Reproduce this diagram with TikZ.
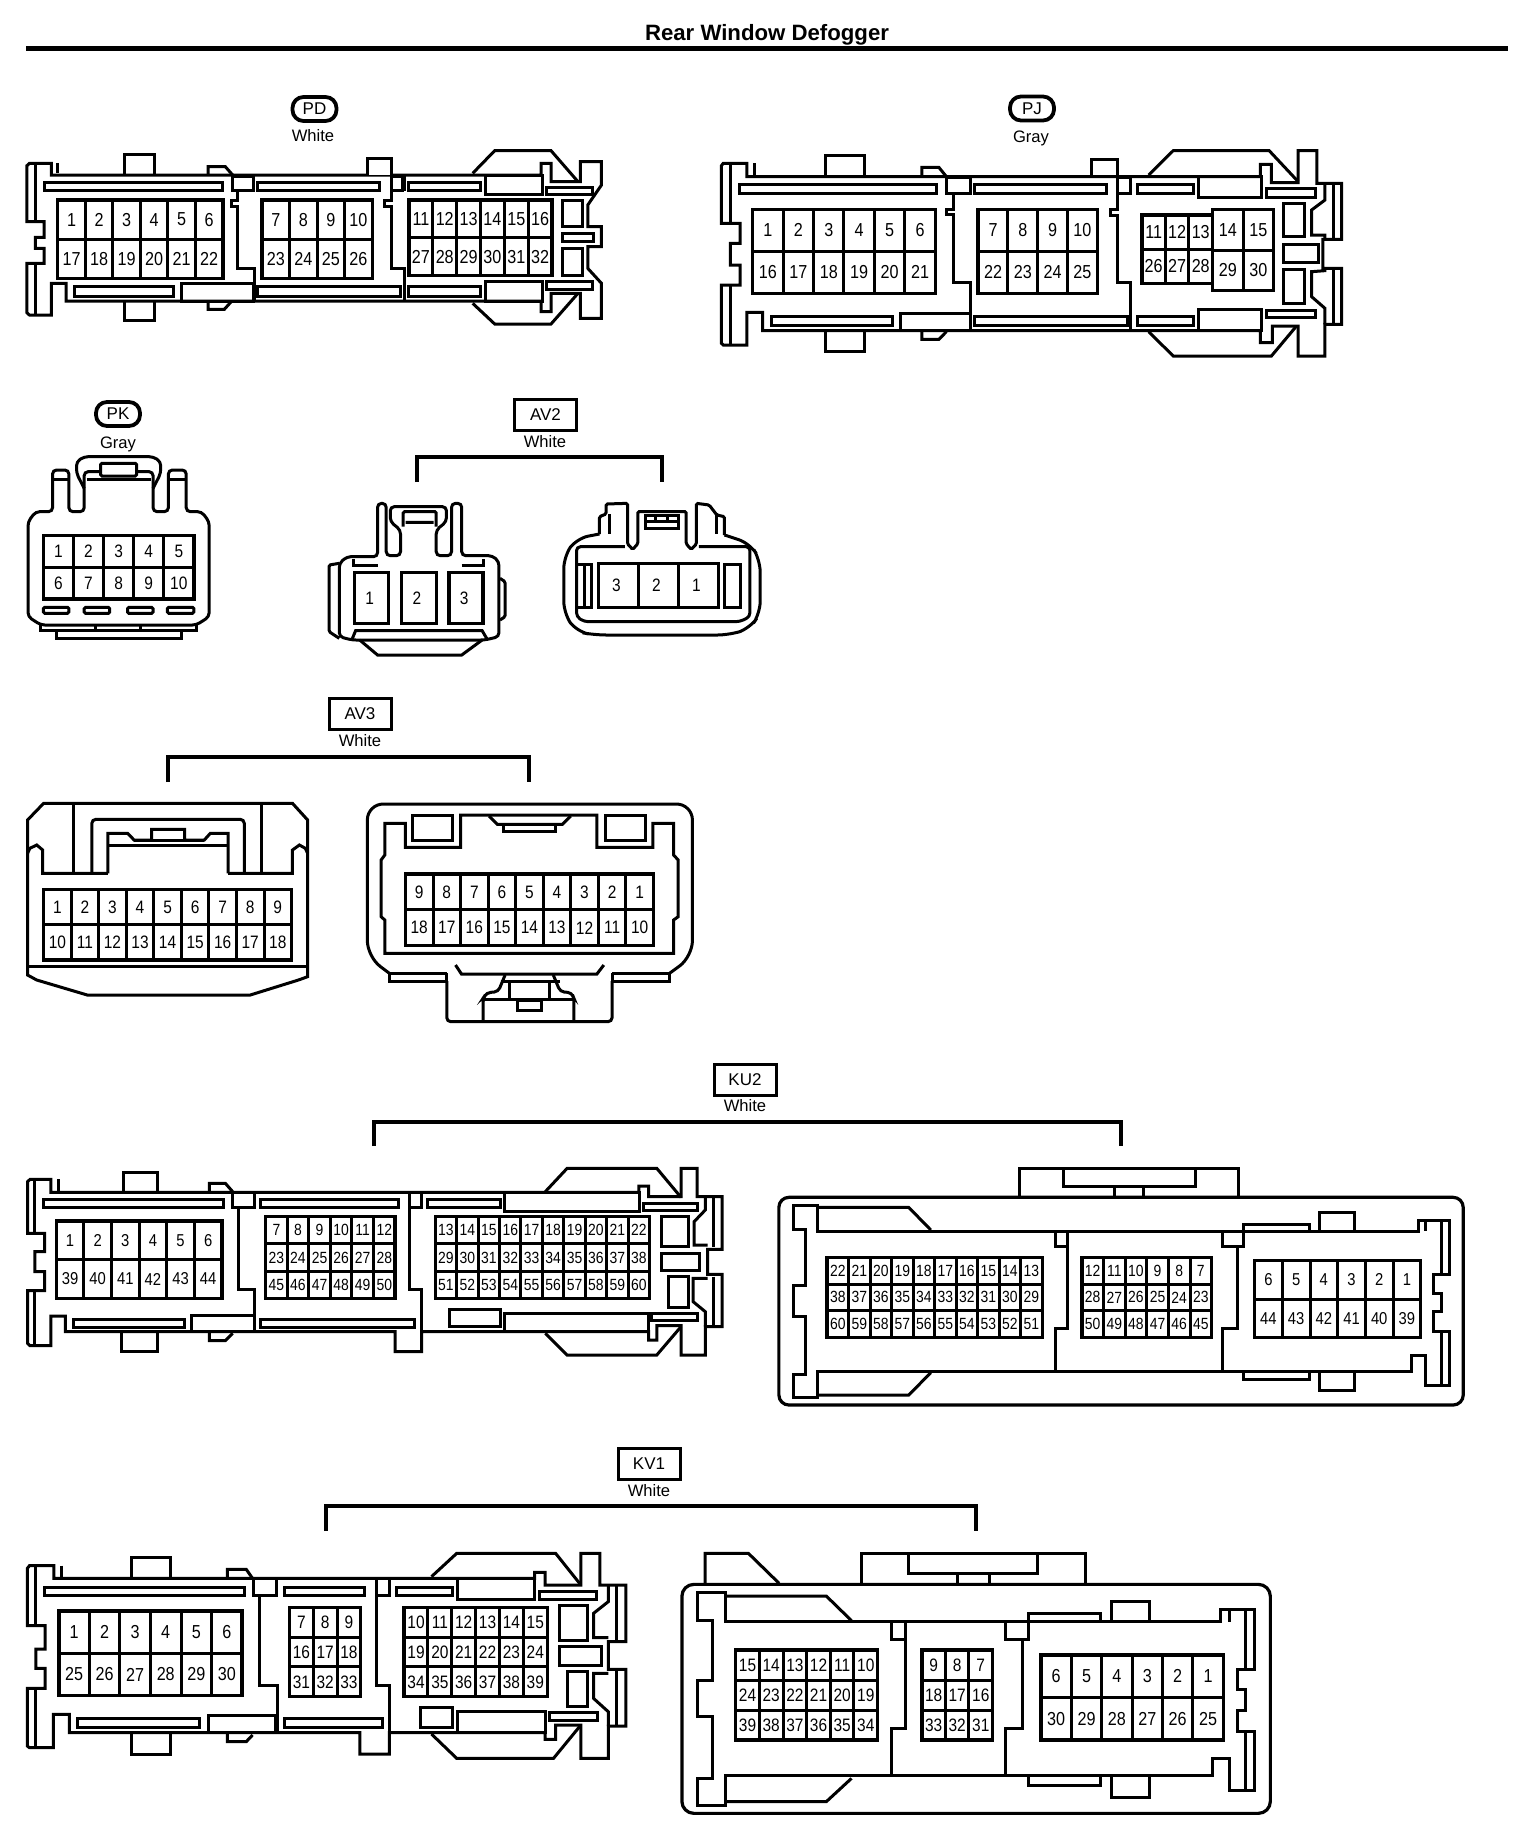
\documentclass[tikz,border=0pt]{standalone}
\usepackage{fontspec}
\setmainfont{Liberation Sans}
\newfontfamily\pinfont[FakeStretch=0.86]{Liberation Sans}
\newcounter{pinctr}
\def\pinoff{0pt}
\tikzset{
  zoomscope/.style n args={3}{x=#3pt,y=-0.16667pt,shift={(#1*0.5pt,-#2*0.5pt)}},
  realscope/.style={x=0.5pt,y=-0.5pt},
  pinbox/.style={draw=black,line width=1.7pt},
  pin/.style={inner sep=0pt,text=black},
  caplabel/.style={inner sep=0pt,font=\fontsize{8.3pt}{9pt}\selectfont},
  badge/.style={draw=black,line width=1.9pt,rounded corners=5.5pt,minimum width=22pt,minimum height=12pt,inner sep=0pt,font=\fontsize{8.5pt}{9pt}\selectfont},
  labbox/.style={draw=black,line width=1.5pt,minimum width=31pt,minimum height=15.5pt,inner sep=0pt,font=\fontsize{8.5pt}{9pt}\selectfont},
  bracket/.style={draw=black,line width=1.7pt},
  part/.style={draw=black,line width=1.5pt},
  soft/.style={draw=black,line width=1.5pt,rounded corners=2pt},
  tiny/.style={draw=black,line width=1.5pt,rounded corners=0.7pt}
}
\newcommand\pins[8]{%
  \pgfmathsetmacro\pdx{(#3-#1)/#5}%
  \pgfmathsetmacro\pdy{(#4-#2)/#6}%
  \draw[pinbox] (#1,#2) rectangle (#3,#4);
  \foreach \cx in {1,...,#5}{\draw[part] ({#1+\cx*\pdx},#2) -- ({#1+\cx*\pdx},#4);}
  \foreach \ry in {1,...,#6}{\draw[part] (#1,{#2+\ry*\pdy}) -- (#3,{#2+\ry*\pdy});}
  \foreach \lab [count=\i from 0] in {#8}{%
    \pgfmathtruncatemacro\ccol{mod(\i,#5)}%
    \pgfmathtruncatemacro\rrow{int(\i/#5)}%
    \stepcounter{pinctr}%
    \node[pin,xshift=\pinoff,font=\pinfont\fontsize{#7}{#7}\selectfont] (pin\thepinctr) at ({#1+(\ccol+.5)*\pdx},{#2+(\rrow+.5)*\pdy}) {\lab};
  }
}
\newcommand\rects[1]{\foreach \ra/\rb/\rc/\rd in {#1}{\draw[part] (\ra,\rb) rectangle (\rc,\rd);}}
\begin{document}
\begin{tikzpicture}
\fill[white] (0,0) rectangle (768pt,-917pt);
\useasboundingbox (0,0) rectangle (768pt,-917pt);

% ---- labels, title, brackets (reference pixels)
\begin{scope}[realscope]
\node[inner sep=0pt,font=\bfseries\fontsize{11.1pt}{12pt}\selectfont] (title) at (767,35) {Rear Window Defogger};
\coordinate (barL) at (26,48.5); \coordinate (barR) at (1508,48.5);
\draw[line width=2.5pt] (barL) -- (barR);

\node[badge] (pd) at (314.5,109) {PD};
\node[caplabel] (pdc) at (313,136) {White};
\node[badge] (pj) at (1032,108.5) {PJ};
\node[caplabel] (pjc) at (1031,138) {Gray};
\node[badge] (pk) at (118,414) {PK};
\node[caplabel] (pkc) at (118,444) {Gray};
\node[labbox] (av2) at (545.5,415) {AV2};
\node[caplabel] (av2c) at (545,442) {White};
\node[labbox] (av3) at (360,714) {AV3};
\node[caplabel] (av3c) at (360,741) {White};
\node[labbox] (ku2) at (745,1080) {KU2};
\node[caplabel] (ku2c) at (745,1106) {White};
\node[labbox] (kv1) at (649,1464) {KV1};
\node[caplabel] (kv1c) at (649,1491) {White};

\coordinate (av2L) at (417,482); \coordinate (av2R) at (662,482); \coordinate (av2T) at (540,457);
\draw[bracket] (av2L) |- (av2T) -| (av2R);
\coordinate (av3L) at (168,782); \coordinate (av3R) at (529,782); \coordinate (av3T) at (350,757);
\draw[bracket] (av3L) |- (av3T) -| (av3R);
\coordinate (ku2L) at (374,1146); \coordinate (ku2R) at (1121,1146); \coordinate (ku2T) at (745,1122);
\draw[bracket] (ku2L) |- (ku2T) -| (ku2R);
\coordinate (kv1L) at (326,1531); \coordinate (kv1R) at (976,1531); \coordinate (kv1T) at (650,1506);
\draw[bracket] (kv1L) |- (kv1T) -| (kv1R);
\end{scope}

% ---- PD
\begin{scope}[zoomscope={0}{0}{0.24490}]
\draw[part] (105,525) -- (105,490) -- (60,490) -- (55,497) -- (55,665) -- (90,665) -- (90,712) -- (72,712) -- (72,745) -- (90,745) -- (90,790) -- (55,790) -- (55,938) -- (60,945) -- (105,945) -- (105,850) -- (135,850) -- (135,903) -- (1105,903) -- (1105,935) -- (1125,935) -- (1125,880) -- (1185,880) -- (1185,955) -- (1228,955) -- (1228,850) -- (1200,805) -- (1200,740) -- (1228,740) -- (1228,680) -- (1200,680) -- (1200,615) -- (1228,555) -- (1228,485) -- (1185,485) -- (1185,545) -- (1125,545) -- (1125,490) -- (1105,490) -- (1105,525) -- cycle;
\draw[part] (72,490) -- (72,665) (72,790) -- (72,945) (118,490) -- (118,520);
\draw[part] (255,525) -- (255,465) -- (315,465) -- (315,525);
\draw[part] (425,525) -- (425,500) -- (460,500) -- (475,525);
\draw[fill=white,part] (750,525) -- (750,475) -- (800,475) -- (800,525);
\draw[part] (965,520) -- (1010,452) -- (1125,452) -- (1180,545);
\draw[part] (965,910) -- (1010,972) -- (1125,972) -- (1180,880);
\draw[part] (255,903) -- (255,962) -- (315,962) -- (315,903);
\draw[part] (425,903) -- (425,928) -- (458,928) -- (472,905);
\rects{90/547/455/572,525/547/775/572,835/547/982/572,1115/562/1210/582,152/860/355/888,525/860/817/888,835/860/982/888,1115/845/1210/868,475/528/518/572,800/528/822/572,992/525/1108/582,992/843/1108/903,370/850/518/903,1148/600/1190/680,1148/700/1212/725,1148/745/1190/825}
\draw[part] (485,572) -- (485,600) -- (472,600) -- (472,618) -- (485,618) -- (485,805) -- (520,805) -- (520,903);
\draw[part] (800,572) -- (800,600) -- (785,600) -- (785,618) -- (800,618) -- (800,805) -- (825,805) -- (825,903) (825,525) -- (825,572);
\pins{118}{600}{455}{835}{6}{2}{9.4pt}{1,2,3,4,5,6,17,18,19,20,21,22}
\pins{535}{600}{760}{835}{4}{2}{9.4pt}{7,8,9,10,23,24,25,26}
\pins{835}{600}{1127}{827}{6}{2}{9.4pt}{11,12,13,14,15,16,27,28,29,30,31,32}
\end{scope}

% ---- PJ
\begin{scope}[zoomscope={700}{80}{0.22321}]
\draw[part] (105,290) -- (105,250) -- (52,250) -- (48,257) -- (48,430) -- (90,430) -- (90,490) -- (68,490) -- (68,555) -- (90,555) -- (90,615) -- (48,615) -- (48,790) -- (52,795) -- (105,795) -- (105,697) -- (140,697) -- (140,752) -- (1255,752) -- (1255,788) -- (1282,788) -- (1282,738) -- (1340,738) -- (1340,828) -- (1400,828) -- (1400,733) -- (1437,733) -- (1437,565) -- (1395,565) -- (1395,478) -- (1437,478) -- (1437,310) -- (1382,310) -- (1382,212) -- (1340,212) -- (1340,308) -- (1280,308) -- (1280,253) -- (1255,253) -- (1255,290) -- cycle;
\draw[part] (68,250) -- (68,430) (68,615) -- (68,795) (122,250) -- (122,290);
\draw[part] (280,290) -- (280,227) -- (368,227) -- (368,290);
\draw[part] (497,290) -- (497,262) -- (535,262) -- (552,290);
\draw[part] (878,290) -- (878,238) -- (935,238) -- (935,290);
\draw[part] (1005,285) -- (1060,212) -- (1275,212) -- (1340,305);
\draw[part] (1005,755) -- (1060,828) -- (1280,828) -- (1335,740);
\draw[part] (280,752) -- (280,815) -- (368,815) -- (368,752);
\draw[part] (497,752) -- (497,778) -- (535,778) -- (552,755);
\draw[part] (1418,310) -- (1418,478) (1418,565) -- (1418,733);
\draw[part] (1400,310) -- (1400,360) -- (1370,390) -- (1370,465) -- (1400,465) -- (1400,478);
\draw[part] (1400,565) -- (1400,572) -- (1370,575) -- (1370,650) -- (1400,685) -- (1400,733);
\rects{88/313/530/342,615/313/910/342,980/313/1105/342,1270/325/1378/352,160/708/432/737,615/708/957/737,980/708/1105/737,1270/690/1378/713,552/292/607/342,935/292/965/342,1117/290/1258/352,1117/688/1258/752,450/700/607/752,1307/370/1355/470,1307/493/1385/547,1307/568/1355/670}
\draw[part] (568,342) -- (568,388) -- (552,388) -- (552,405) -- (568,405) -- (568,607) -- (607,607) -- (607,752);
\draw[part] (935,342) -- (935,390) -- (920,390) -- (920,407) -- (935,407) -- (935,607) -- (965,607) -- (965,752);
\pins{118}{388}{527}{640}{6}{2}{9.4pt}{1,2,3,4,5,6,16,17,18,19,20,21}
\pins{623}{388}{890}{640}{4}{2}{9.4pt}{7,8,9,10,22,23,24,25}
\pins{990}{405}{1148}{610}{3}{2}{9.4pt}{11,12,13,26,27,28}
\pins{1148}{388}{1285}{632}{2}{2}{9.4pt}{14,15,29,30}
\end{scope}

% ---- PK and AV2
\begin{scope}[zoomscope={0}{390}{0.25510}]
\draw[soft] (55,680) -- (55,395) -- (70,365) -- (103,365) -- (103,240) -- (135,240) -- (135,365) -- (165,365) -- (165,245) -- (300,245) -- (300,365) -- (330,365) -- (330,240) -- (365,240) -- (365,365) -- (395,365) -- (410,395) -- (410,680) -- (385,705) -- (80,705) -- cycle;
\draw[soft] (165,295) -- (150,250) -- (150,215) -- (165,200) -- (300,200) -- (315,215) -- (315,250) -- (300,295);
\draw[part] (170,268) -- (295,268) (103,268) -- (135,268) (330,268) -- (365,268);
\draw[tiny,fill=white] (197,220) rectangle (268,258);
\draw[part] (80,705) -- (80,722) -- (385,722) -- (385,705) (110,722) -- (110,745) -- (355,745) -- (355,722) (187,703) -- (187,720) (275,703) -- (275,720);
\foreach \ra/\rc in {85/135,165/215,250/300,328/380}{\draw[tiny] (\ra,652) rectangle (\rc,670);}
\pins{85}{436}{380}{627}{5}{2}{9pt}{1,2,3,4,5,6,7,8,9,10}

% AV2 left
\draw[soft] (665,520) -- (680,500) -- (740,500) -- (740,340) -- (757,340) -- (757,497) -- (785,497) -- (785,420) -- (765,395) -- (765,350) -- (875,350) -- (875,395) -- (855,420) -- (855,497) -- (885,497) -- (885,340) -- (905,340) -- (905,497) -- (965,497) -- (978,515) -- (978,740) -- (950,750) -- (690,750) -- (665,740) -- cycle;
\draw[tiny] (790,410) -- (790,365) -- (855,365) -- (855,410) (795,397) -- (850,397);
\draw[part] (705,750) -- (740,795) -- (905,795) -- (945,750);
\draw[tiny] (665,520) -- (645,525) -- (645,725) -- (665,745);
\draw[tiny] (980,565) -- (990,575) -- (990,680) -- (980,690);
\draw[part] (692,507) -- (692,525) -- (740,525) (905,525) -- (948,525) -- (948,507);
\draw[part] (690,748) -- (697,722) -- (945,722) -- (955,748);
\def\pinoff{-1pt}
\pins{695}{548}{762}{700}{1}{1}{9pt}{1}
\pins{787}{548}{855}{700}{1}{1}{9pt}{2}
\pins{880}{548}{947}{700}{1}{1}{9pt}{3}

% AV2 right
\draw[line width=1.5pt,rounded corners=6pt] (1175,432) -- (1130,445) -- (1105,500) -- (1105,670) -- (1130,725) -- (1165,735) -- (1430,735) -- (1470,715) -- (1490,670) -- (1490,510) -- (1470,460) -- (1420,435);
\draw[tiny] (1175,432) -- (1175,380) -- (1188,372) -- (1188,342) -- (1230,340) -- (1230,462) -- (1240,478) -- (1250,462) -- (1250,365) -- (1345,365) -- (1345,462) -- (1355,478) -- (1365,462) -- (1365,340) -- (1390,345) -- (1405,375) -- (1420,380) -- (1420,435);
\draw[part] (1195,372) -- (1195,432) (1405,375) -- (1405,432);
\draw[soft] (1225,470) -- (1130,470) -- (1130,680) -- (1145,695) -- (1450,695) -- (1470,680) -- (1470,470) -- (1370,470);
\draw[part] (1265,375) rectangle (1330,415) (1265,395) -- (1330,395) (1285,375) -- (1285,395) (1308,375) -- (1308,395);
\rects{1130/522/1160/652,1420/522/1452/652}
\draw[part] (1145,522) -- (1145,652);
\pins{1173}{520}{1408}{652}{3}{1}{9pt}{3,2,1}
\def\pinoff{0pt}
\end{scope}

% ---- AV3
\begin{scope}[zoomscope={0}{690}{0.22959}]
\draw[part] (60,390) -- (95,340) -- (637,340) -- (670,390) -- (670,860) -- (650,870) -- (545,915) -- (190,915) -- (80,870) -- (60,855) -- cycle;
\draw[line width=1.8pt] (60,830) -- (670,830);
\draw[soft] (160,548) -- (160,345) (570,548) -- (570,345);
\draw[soft] (200,548) -- (200,388) -- (532,388) -- (532,548);
\draw[part] (235,550) -- (235,430) -- (278,430) -- (292,450) -- (330,450) -- (330,418) -- (402,418) -- (402,450) -- (445,450) -- (458,430) -- (497,430) -- (497,550);
\draw[part] (235,465) -- (497,465) (292,450) -- (445,450);
\draw[part] (60,490) -- (65,475) -- (80,465) -- (93,480) -- (93,550) -- (235,550);
\draw[part] (670,490) -- (665,475) -- (652,465) -- (637,480) -- (637,550) -- (497,550);
\pins{95}{598}{635}{810}{9}{2}{9pt}{1,2,3,4,5,6,7,8,9,10,11,12,13,14,15,16,17,18}

\draw[line width=1.5pt,rounded corners=8pt] (848,850) -- (800,800) -- (800,342) -- (1508,342) -- (1508,800) -- (1458,850);
\draw[part] (848,850) -- (848,873) -- (973,873) -- (973,850) (1333,850) -- (1333,873) -- (1458,873) -- (1458,850) (848,850) -- (973,850) (1333,850) -- (1458,850);
\draw[soft] (973,873) -- (973,995) -- (1333,995) -- (1333,873);
\draw[part] (838,790) -- (838,690) -- (830,680) -- (830,510) -- (838,495) -- (838,400) -- (883,400) -- (883,472) -- (1003,472) -- (1003,375) -- (1300,375) -- (1300,472) -- (1422,472) -- (1422,400) -- (1467,400) -- (1467,495) -- (1477,510) -- (1477,680) -- (1467,690) -- (1467,790) -- cycle;
\rects{898/375/985/450,1318/375/1405/450,1097/403/1210/425,1128/930/1180/962}
\draw[part] (1065,378) -- (1083,403) -- (1225,403) -- (1243,378);
\draw[part] (992,825) -- (1005,852) -- (1300,852) -- (1315,825);
\draw[soft] (1100,855) -- (1085,905) -- (1060,908) -- (1052,925) -- (1052,995);
\draw[soft] (1205,855) -- (1220,905) -- (1245,908) -- (1250,925) -- (1250,995);
\draw[part] (1052,928) -- (1250,928) (1110,875) -- (1110,925) (1197,875) -- (1197,925) (1090,875) -- (1220,875);
\pins{883}{552}{1423}{767}{9}{2}{9pt}{9,8,7,6,5,4,3,2,1,18,17,16,15,14,13,12,11,10}
\end{scope}

% ---- KU2 left
\begin{scope}[zoomscope={0}{1060}{0.24235}]
\draw[part] (105,397) -- (105,358) -- (62,358) -- (57,365) -- (57,520) -- (92,520) -- (92,575) -- (72,575) -- (72,635) -- (92,635) -- (92,692) -- (57,692) -- (57,850) -- (62,857) -- (105,857) -- (105,768) -- (135,768) -- (135,815) -- (815,815) -- (815,875) -- (870,875) -- (870,815) -- (1338,815) -- (1338,840) -- (1355,840) -- (1355,797) -- (1405,797) -- (1405,885) -- (1455,885) -- (1455,800) -- (1490,800) -- (1490,643) -- (1460,643) -- (1460,568) -- (1490,568) -- (1490,410) -- (1438,410) -- (1438,325) -- (1405,325) -- (1405,410) -- (1338,410) -- (1338,378) -- (1318,378) -- (1318,397) -- cycle;
\draw[part] (72,358) -- (72,520) (72,692) -- (72,857) (120,358) -- (120,397);
\draw[part] (1125,395) -- (1170,325) -- (1355,325) -- (1405,412);
\draw[part] (1125,820) -- (1170,885) -- (1355,885) -- (1405,800);
\draw[part] (1472,410) -- (1472,560) (1472,650) -- (1472,795);
\draw[part] (1455,410) -- (1455,450) -- (1432,485) -- (1432,555) -- (1460,555);
\draw[part] (1460,655) -- (1430,655) -- (1430,725) -- (1455,755) -- (1455,800);
\draw[part] (255,397) -- (255,337) -- (325,337) -- (325,397);
\draw[part] (432,397) -- (432,370) -- (465,370) -- (480,395);
\draw[part] (250,815) -- (250,875) -- (325,875) -- (325,815);
\draw[part] (432,815) -- (432,842) -- (465,842) -- (480,820);
\rects{90/418/462/443,538/418/822/443,882/418/1032/443,1328/430/1438/450,152/778/380/802,538/778/855/802,1345/760/1438/780,480/398/525/442,845/398/870/442,1040/397/1320/455,1040/760/1338/815,927/748/1032/800,395/765/525/815,1365/470/1420/560,1365/580/1443/630,1380/648/1420/742}
\draw[part] (492,442) -- (492,688) -- (525,688) -- (525,815);
\draw[part] (845,442) -- (845,688) -- (870,688) -- (870,815);
\pins{116}{483}{458}{715}{6}{2}{8.6pt}{1,2,3,4,5,6,39,40,41,42,43,44}
\pins{548}{470}{815}{715}{6}{3}{8.1pt}{7,8,9,10,11,12,23,24,25,26,27,28,45,46,47,48,49,50}
\pins{898}{470}{1340}{715}{10}{3}{8.1pt}{13,14,15,16,17,18,19,20,21,22,29,30,31,32,33,34,35,36,37,38,51,52,53,54,55,56,57,58,59,60}
\end{scope}

% ---- KU2 right
\begin{scope}[zoomscope={760}{1130}{0.23597}]
\draw[line width=1.6pt,rounded corners=5pt] (40,202) rectangle (1490,825);
\draw[part] (550,200) -- (550,115) -- (1013,115) -- (1013,200);
\draw[part] (642,118) -- (642,168) -- (922,168) -- (922,118) (752,170) -- (752,200) (812,170) -- (812,200);
\draw[part] (122,303) -- (122,225) -- (70,225) -- (70,297) -- (97,297) -- (97,465) -- (70,465) -- (70,560) -- (97,560) -- (97,732) -- (70,732) -- (70,802) -- (122,802) -- (122,725) -- (1380,725) -- (1380,677) -- (1410,677) -- (1410,765) -- (1460,765) -- (1460,605) -- (1428,605) -- (1428,545) -- (1445,545) -- (1445,490) -- (1428,490) -- (1428,432) -- (1460,432) -- (1460,270) -- (1395,270) -- (1395,303) -- cycle;
\draw[part] (1445,270) -- (1445,432) (1445,605) -- (1445,765) (1410,270) -- (1410,303);
\draw[part] (122,232) -- (315,232) -- (362,300) (122,795) -- (315,795) -- (362,728);
\draw[part] (1025,303) -- (1025,282) -- (1165,282) -- (1165,303);
\draw[part] (1185,303) -- (1185,247) -- (1260,247) -- (1260,303);
\draw[part] (1025,725) -- (1025,748) -- (1165,748) -- (1165,725);
\draw[part] (1185,725) -- (1185,782) -- (1260,782) -- (1260,725);
\draw[part] (627,303) -- (627,350) -- (652,350) -- (652,595) -- (627,595) -- (627,725) (652,303) -- (652,350);
\draw[part] (980,303) -- (980,350) -- (1012,350) -- (1012,595) -- (980,595) -- (980,725) (1025,303) -- (1025,350) -- (1012,350);
\pins{142}{382}{598}{622}{10}{3}{8.1pt}{22,21,20,19,18,17,16,15,14,13,38,37,36,35,34,33,32,31,30,29,60,59,58,57,56,55,54,53,52,51}
\pins{682}{382}{957}{622}{6}{3}{8.1pt}{12,11,10,9,8,7,28,27,26,25,24,23,50,49,48,47,46,45}
\pins{1048}{392}{1400}{622}{6}{2}{8.6pt}{6,5,4,3,2,1,44,43,42,41,40,39}
\end{scope}

% ---- KV1 left
\begin{scope}[zoomscope={0}{1450}{0.21046}]
\draw[part] (128,385) -- (128,347) -- (70,347) -- (65,355) -- (65,527) -- (107,527) -- (107,597) -- (85,597) -- (85,655) -- (107,655) -- (107,715) -- (65,715) -- (65,888) -- (70,893) -- (127,893) -- (127,793) -- (165,793) -- (165,848) -- (855,848) -- (855,912) -- (925,912) -- (925,848) -- (1295,848) -- (1295,868) -- (1320,868) -- (1320,825) -- (1380,825) -- (1380,925) -- (1445,925) -- (1445,828) -- (1487,828) -- (1487,658) -- (1445,658) -- (1445,575) -- (1487,575) -- (1487,405) -- (1425,405) -- (1425,310) -- (1380,310) -- (1380,405) -- (1295,405) -- (1295,367) -- (1270,367) -- (1270,385) -- cycle;
\draw[part] (85,347) -- (85,527) (85,715) -- (85,893) (145,347) -- (145,385);
\draw[part] (1465,405) -- (1465,575) (1465,658) -- (1465,828);
\draw[part] (1445,405) -- (1445,455) -- (1410,490) -- (1410,563) -- (1445,563);
\draw[part] (1445,670) -- (1410,670) -- (1410,745) -- (1445,785) -- (1445,828);
\draw[part] (1025,380) -- (1085,310) -- (1320,310) -- (1380,405);
\draw[part] (1025,852) -- (1085,925) -- (1315,925) -- (1378,828);
\draw[part] (312,385) -- (312,322) -- (405,322) -- (405,385);
\draw[part] (540,385) -- (540,358) -- (585,358) -- (600,385);
\draw[part] (312,848) -- (312,912) -- (405,912) -- (405,848);
\draw[part] (540,848) -- (540,875) -- (585,875) -- (600,855);
\rects{105/413/580/437,675/413/867/437,942/413/1075/437,1282/425/1418/448,185/805/475/832,675/805/908/832,1305/788/1420/810,603/385/657/435,895/385/925/435,1087/385/1270/448,1087/785/1295/848,998/772/1075/832,495/797/655/848,1330/465/1395/570,1330/590/1430/645,1347/665/1395/770}
\draw[part] (617,435) -- (617,705) -- (660,705) -- (660,848);
\draw[part] (895,435) -- (895,705) -- (925,705) -- (925,848);
\pins{140}{483}{575}{737}{6}{2}{9.4pt}{1,2,3,4,5,6,25,26,27,28,29,30}
\pins{688}{472}{857}{740}{3}{3}{9pt}{7,8,9,16,17,18,31,32,33}
\pins{960}{472}{1300}{740}{6}{3}{9pt}{10,11,12,13,14,15,19,20,21,22,23,24,34,35,36,37,38,39}
\end{scope}

% ---- KV1 right
\begin{scope}[zoomscope={660}{1450}{0.21046}]
\draw[line width=1.6pt,rounded corners=6pt] (52,403) rectangle (1450,1090);
\draw[part] (107,400) -- (107,310) -- (210,310) -- (283,400);
\draw[part] (478,400) -- (478,310) -- (1010,310) -- (1010,400);
\draw[part] (590,312) -- (590,370) -- (897,370) -- (897,312) (707,372) -- (707,400) (782,372) -- (782,400);
\draw[part] (155,515) -- (155,428) -- (90,428) -- (90,510) -- (125,510) -- (125,690) -- (90,690) -- (90,800) -- (125,800) -- (125,985) -- (90,985) -- (90,1065) -- (155,1065) -- (155,975) -- (1312,975) -- (1312,925) -- (1352,925) -- (1352,1022) -- (1412,1022) -- (1412,845) -- (1372,845) -- (1372,782) -- (1392,782) -- (1392,718) -- (1372,718) -- (1372,658) -- (1412,658) -- (1412,478) -- (1332,478) -- (1332,515) -- cycle;
\draw[part] (1392,478) -- (1392,658) (1392,845) -- (1392,1022) (1352,478) -- (1352,515);
\draw[part] (155,438) -- (395,438) -- (455,512) (155,1055) -- (395,1055) -- (455,985);
\draw[part] (875,515) -- (875,490) -- (1047,490) -- (1047,515);
\draw[part] (1072,515) -- (1072,455) -- (1163,455) -- (1163,515);
\draw[part] (875,975) -- (875,1005) -- (1047,1005) -- (1047,975);
\draw[part] (1072,975) -- (1072,1042) -- (1163,1042) -- (1163,975);
\draw[part] (550,515) -- (550,567) -- (583,567) -- (583,835) -- (550,835) -- (550,975) (583,515) -- (583,567);
\draw[part] (820,515) -- (820,567) -- (860,567) -- (860,835) -- (820,835) -- (820,975) (875,515) -- (875,567) -- (860,567);
\pins{180}{600}{517}{870}{6}{3}{9pt}{15,14,13,12,11,10,24,23,22,21,20,19,39,38,37,36,35,34}
\pins{622}{600}{790}{870}{3}{3}{9pt}{9,8,7,18,17,16,33,32,31}
\pins{905}{615}{1338}{870}{6}{2}{9.4pt}{6,5,4,3,2,1,30,29,28,27,26,25}
\end{scope}
\end{tikzpicture}
\end{document}
